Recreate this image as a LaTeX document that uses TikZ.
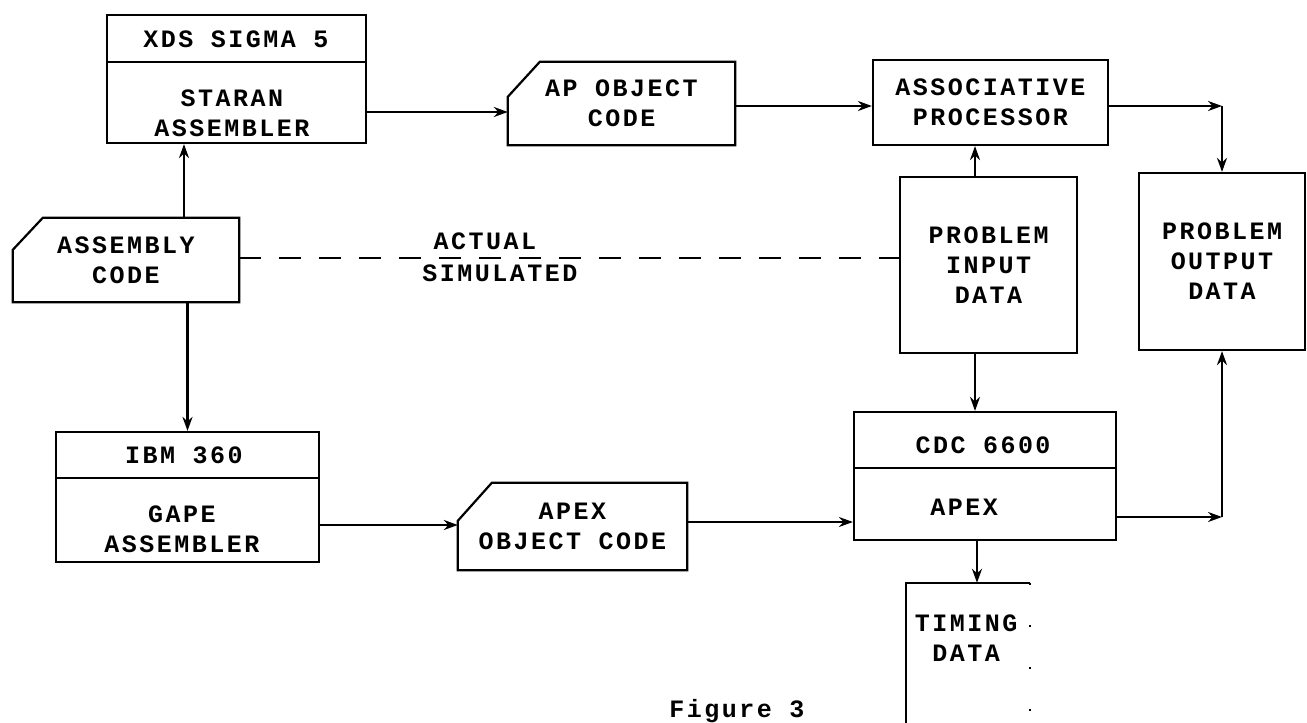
\documentclass[tikz,border=0pt]{standalone}
\usepackage{fontspec}
\setmonofont[LetterSpace=10]{Liberation Mono}
\usetikzlibrary{arrows.meta}
\begin{document}
\begin{tikzpicture}[x=1pt,y=-1pt,
  lw/.style={line width=2.2pt},
  txt/.style={font=\ttfamily\bfseries\fontsize{25}{30}\selectfont, align=center, inner sep=0pt},
  boxn/.style={lw, draw, inner sep=0pt, txt},
  cardn/.style={inner sep=0pt, txt},
  arr/.style={lw, -{Stealth[length=14pt,width=10pt]}},
  dline/.style={lw, dash pattern=on 22pt off 18pt}
]
\useasboundingbox (0,0) rectangle (1307,723);

% split boxes
\node[boxn, minimum width=259pt, minimum height=128pt] (xds) at (236.5,79) {};
\draw[lw] (xds.west |- 0,62) -- (xds.east |- 0,62);
\node[txt] (xdsh) at (236,39) {XDS SIGMA 5};
\node[txt] (xdsb) at (232,113) {STARAN\\ASSEMBLER};

\node[boxn, minimum width=263pt, minimum height=130pt] (ibm) at (187.5,497) {};
\draw[lw] (ibm.west |- 0,478) -- (ibm.east |- 0,478);
\node[txt] (ibmh) at (184,455) {IBM 360};
\node[txt] (ibmb) at (182,529) {GAPE\\ASSEMBLER};

\node[boxn, minimum width=262pt, minimum height=128pt] (cdc) at (985,476) {};
\draw[lw] (cdc.west |- 0,468) -- (cdc.east |- 0,468);
\node[txt] (cdch) at (983,445) {CDC 6600};
\node[txt] (cdcb) at (964,507) {APEX};

% cards
\node[cardn, minimum width=226pt, minimum height=84pt] (asm) at (126,260) {ASSEMBLY\\CODE};
\draw[lw] (asm.north east) -- (asm.south east) -- (asm.south west) -- ([yshift=-32pt]asm.north west) -- ([xshift=30pt]asm.north west) -- cycle;

\node[cardn, minimum width=227pt, minimum height=83pt] (apc) at (621.5,103.5) {AP OBJECT\\CODE};
\draw[lw] (apc.north east) -- (apc.south east) -- (apc.south west) -- ([yshift=-35pt]apc.north west) -- ([xshift=32pt]apc.north west) -- cycle;

\node[cardn, minimum width=229pt, minimum height=87pt] (apexc) at (572.5,526.5) {APEX\\OBJECT CODE};
\draw[lw] (apexc.north east) -- (apexc.south east) -- (apexc.south west) -- ([yshift=-38pt]apexc.north west) -- ([xshift=34pt]apexc.north west) -- cycle;

% plain boxes
\node[boxn, minimum width=235pt, minimum height=85pt] (assoc) at (990.5,102.5) {ASSOCIATIVE\\PROCESSOR};
\node[boxn, minimum width=177pt, minimum height=176pt] (pin) at (988.5,265) {PROBLEM\\INPUT\\DATA};
\node[boxn, minimum width=166pt, minimum height=177pt] (pout) at (1222,261.5) {PROBLEM\\OUTPUT\\DATA};

% timing (bottom cut off)
\node[inner sep=0pt, minimum width=124pt, minimum height=152pt] (tim) at (968,659) {};
\draw[lw] (tim.south west) -- (tim.north west) -- (tim.north east);
\draw[lw, dash pattern=on 2pt off 40pt] (tim.north east) -- (tim.south east);
\node[txt] (timt) at (966,638) {TIMING\\DATA};

% labels
\node[txt] (act) at (485,241) {ACTUAL};
\node[txt] (sim) at (500,273) {SIMULATED};
\node[txt] (fig) at (737,711) {Figure 3};

% connectors
\draw[arr] (asm.north -| 184,0) -- (xds.south -| 184,0);
\draw[arr] (asm.south -| ibm.north) -- (ibm.north);
\draw[arr] (xds.east |- 0,112) -- (apc.west |- 0,112);
\draw[arr] (apc.east |- 0,106) -- (assoc.west |- 0,106);
\coordinate (c1) at (pout.north |- 0,106);
\draw[arr] (assoc.east |- c1) -- (c1);
\draw[arr] (c1) -- (pout.north);
\draw[arr] (pin.north -| 975,0) -- (assoc.south -| 975,0);
\draw[arr] (pin.south -| 975,0) -- (cdc.north -| 975,0);
\draw[dline] (asm.east |- 0,258) -- (pin.west |- 0,258);
\draw[arr] (ibm.east |- 0,525) -- (apexc.west |- 0,525);
\draw[arr] (apexc.east |- 0,522) -- (cdc.west |- 0,522);
\coordinate (c2) at (pout.south |- 0,517);
\draw[arr] (cdc.east |- c2) -- (c2);
\draw[arr] (c2) -- (pout.south);
\draw[arr] (cdc.south -| 977,0) -- (tim.north -| 977,0);
\end{tikzpicture}
\end{document}
